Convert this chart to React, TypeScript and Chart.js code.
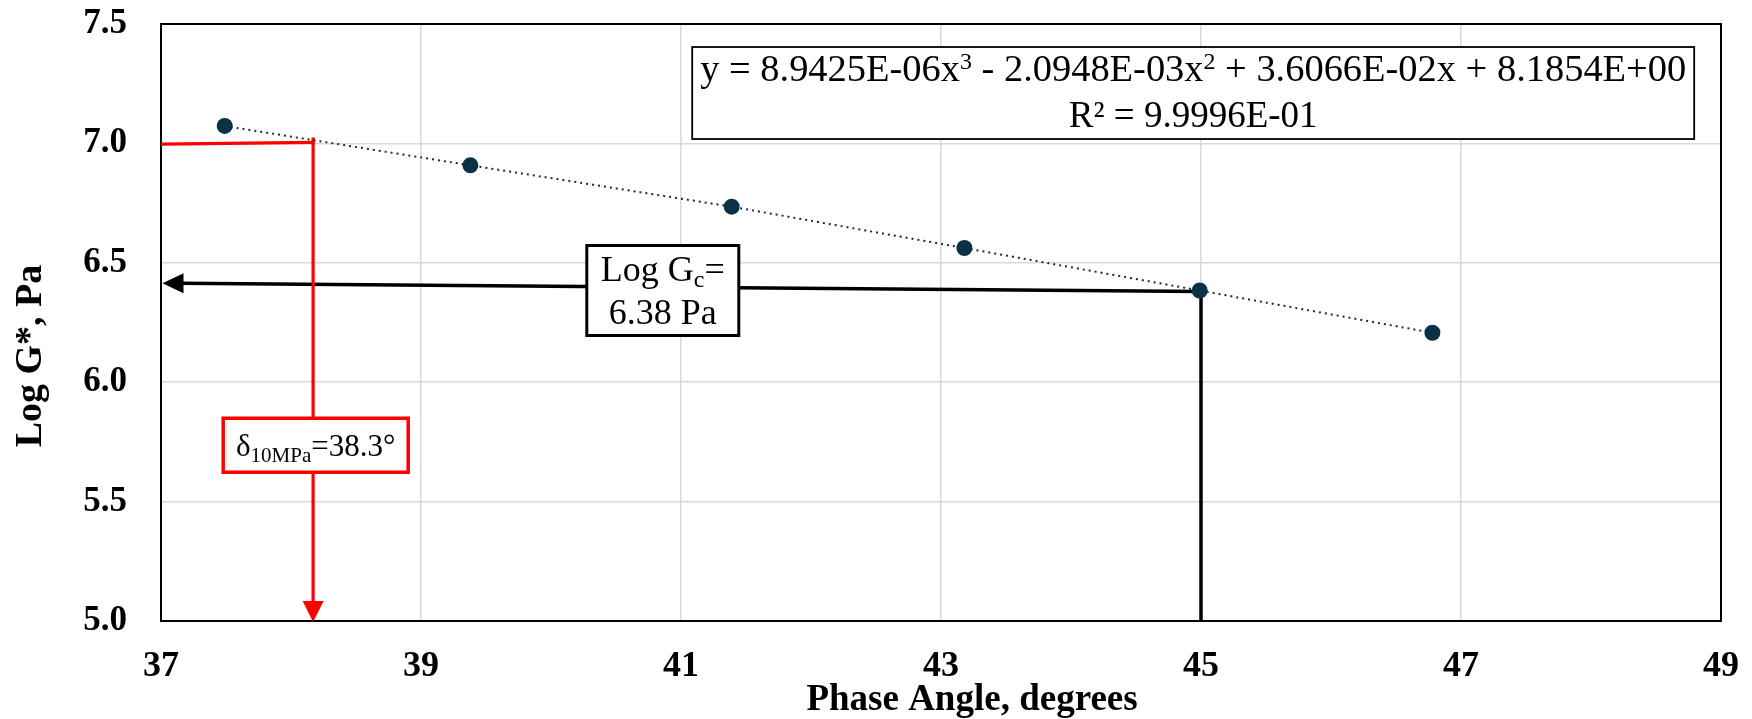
import { useEffect, useRef } from 'react';
import { Chart, registerables } from 'chart.js';

Chart.register(...registerables);

// ---- data ----
const phaseAngle = [37.49, 39.38, 41.39, 43.18, 44.99, 46.78];
const logGStar = [7.073, 6.908, 6.735, 6.562, 6.384, 6.207];

const xTickValues = [37, 39, 41, 43, 45, 47, 49];
const yTickValues = [5.0, 5.5, 6.0, 6.5, 7.0, 7.5];

// black guide: up from the x axis at 45°, then left to the y axis
const gcGuideX = [45, 45, 37];
const gcGuideY = [5.0, 6.38, 6.414];
// red guide: from the y axis at 7.0, then down to the x axis
const deltaGuideX = [37, 38.17, 38.17, 38.17];
const deltaGuideY = [6.997, 7.004, 7.025, 5.0];

// label anchors (data units)
const gcLabelAt = [40.86, 6.384];
const deltaLabelAt = [38.19, 5.736];
const equationAt = [44.94, 7.211];

const equationLine1 = ['y = 8.9425E-06x', '3', ' - 2.0948E-03x', '2', ' + 3.6066E-02x + 8.1854E+00'];
const equationLine2 = 'R² = 9.9996E-01';
const gcLabelLine1 = ['Log G', 'c', '='];
const gcLabelLine2 = '6.38 Pa';
const deltaLabel = ['δ', '10MPa', '=38.3°'];

const xTitle = 'Phase Angle, degrees';
const yTitle = 'Log G*, Pa';

const SERIF = "'Liberation Serif', 'Times New Roman', serif";
const POINT_COLOR = '#0b3146';

type Run = { t: string; s: number; dy: number };

function drawRuns(
  ctx: CanvasRenderingContext2D,
  runs: Run[],
  cx: number,
  baseline: number,
  color: string,
  fitWidth?: number
) {
  let total = 0;
  const widths = runs.map((r) => {
    ctx.font = `${r.s}px ${SERIF}`;
    const w = ctx.measureText(r.t).width;
    total += w;
    return w;
  });
  const sx = fitWidth ? fitWidth / total : 1;
  ctx.save();
  ctx.translate(cx, baseline);
  ctx.scale(sx, 1);
  let x = -total / 2;
  ctx.fillStyle = color;
  ctx.textAlign = 'left';
  ctx.textBaseline = 'alphabetic';
  runs.forEach((r, i) => {
    ctx.font = `${r.s}px ${SERIF}`;
    ctx.fillText(r.t, x, r.dy);
    x += widths[i];
  });
  ctx.restore();
}

function box(ctx: CanvasRenderingContext2D, cx: number, cy: number, w: number, h: number, stroke: string, lw: number) {
  ctx.fillStyle = '#ffffff';
  ctx.fillRect(cx - w / 2, cy - h / 2, w, h);
  ctx.strokeStyle = stroke;
  ctx.lineWidth = lw;
  ctx.strokeRect(cx - w / 2, cy - h / 2, w, h);
}

const overlayPlugin = {
  id: 'overlay',
  beforeDatasetsDraw(chart: any) {
    const { ctx, chartArea: a } = chart;
    const xs = chart.scales.x;
    const ys = chart.scales.y;
    const px = (v: number) => xs.getPixelForValue(v);
    const py = (v: number) => ys.getPixelForValue(v);
    ctx.save();

    // plot frame
    ctx.strokeStyle = '#000';
    ctx.lineWidth = 2;
    ctx.strokeRect(a.left, a.top, a.right - a.left, a.bottom - a.top);

    // black guide with arrow to the left
    const tipX = px(gcGuideX[2]) + 1.5;
    const tipY = py(gcGuideY[2]);
    ctx.strokeStyle = '#000';
    ctx.lineWidth = 3.5;
    ctx.lineJoin = 'miter';
    ctx.beginPath();
    ctx.moveTo(px(gcGuideX[0]), py(gcGuideY[0]));
    ctx.lineTo(px(gcGuideX[1]), py(gcGuideY[1]));
    ctx.lineTo(tipX + 18, tipY);
    ctx.stroke();
    ctx.fillStyle = '#000';
    ctx.beginPath();
    ctx.moveTo(tipX, tipY);
    ctx.lineTo(tipX + 21, tipY - 10);
    ctx.lineTo(tipX + 21, tipY + 10);
    ctx.closePath();
    ctx.fill();

    // red guide with arrow downwards
    ctx.strokeStyle = '#ff0000';
    ctx.lineWidth = 3.2;
    ctx.beginPath();
    ctx.moveTo(px(deltaGuideX[0]), py(deltaGuideY[0]));
    ctx.lineTo(px(deltaGuideX[1]) + 1.5, py(deltaGuideY[1]));
    ctx.stroke();
    const rTipX = px(deltaGuideX[3]);
    const rTipY = py(deltaGuideY[3]);
    ctx.beginPath();
    ctx.moveTo(px(deltaGuideX[2]), py(deltaGuideY[2]));
    ctx.lineTo(rTipX, rTipY - 18);
    ctx.stroke();
    ctx.fillStyle = '#ff0000';
    ctx.beginPath();
    ctx.moveTo(rTipX, rTipY + 1);
    ctx.lineTo(rTipX - 10.5, rTipY - 20);
    ctx.lineTo(rTipX + 10.5, rTipY - 20);
    ctx.closePath();
    ctx.fill();

    // Gc label
    const gx = px(gcLabelAt[0]);
    const gy = py(gcLabelAt[1]);
    box(ctx, gx, gy, 152, 90, '#000', 3);
    drawRuns(
      ctx,
      [
        { t: gcLabelLine1[0], s: 36, dy: 0 },
        { t: gcLabelLine1[1], s: 24, dy: 6 },
        { t: gcLabelLine1[2], s: 36, dy: 0 },
      ],
      gx,
      gy - 10,
      '#000'
    );
    drawRuns(ctx, [{ t: gcLabelLine2, s: 36, dy: 0 }], gx, gy + 33, '#000');

    // delta label
    const dx = px(deltaLabelAt[0]);
    const dy = py(deltaLabelAt[1]);
    box(ctx, dx, dy, 185, 54, '#ff0000', 3.5);
    drawRuns(
      ctx,
      [
        { t: deltaLabel[0], s: 31, dy: 0 },
        { t: deltaLabel[1], s: 21, dy: 6 },
        { t: deltaLabel[2], s: 31, dy: 0 },
      ],
      dx,
      dy + 11,
      '#000'
    );

    // trendline equation
    const ex = px(equationAt[0]);
    const ey = py(equationAt[1]);
    box(ctx, ex, ey, 1002, 92, '#000', 1.8);
    drawRuns(
      ctx,
      [
        { t: equationLine1[0], s: 37, dy: 0 },
        { t: equationLine1[1], s: 23, dy: -12 },
        { t: equationLine1[2], s: 37, dy: 0 },
        { t: equationLine1[3], s: 23, dy: -12 },
        { t: equationLine1[4], s: 37, dy: 0 },
      ],
      ex,
      ey - 12,
      '#000',
      986
    );
    drawRuns(ctx, [{ t: equationLine2, s: 37, dy: 0 }], ex, ey + 34, '#000');

    ctx.restore();
  },
  afterDraw(chart: any) {
    const { ctx } = chart;
    ctx.save();
    ctx.fillStyle = '#000';
    ctx.font = `bold 37px ${SERIF}`;
    ctx.textAlign = 'center';
    ctx.textBaseline = 'alphabetic';
    ctx.fillText(xTitle, 972, 710);
    ctx.translate(40.5, 356);
    ctx.rotate(-Math.PI / 2);
    ctx.font = `bold 38px ${SERIF}`;
    ctx.fillText(yTitle, 0, 0);
    ctx.restore();
  },
};

export default function App() {
  const canvasRef = useRef<HTMLCanvasElement | null>(null);

  useEffect(() => {
    document.body.style.margin = '0';
    const canvas = canvasRef.current;
    if (!canvas) return;
    const chart = new Chart(canvas, {
      type: 'scatter',
      data: {
        datasets: [
          {
            label: 'Log G*',
            data: phaseAngle.map((x, i) => ({ x, y: logGStar[i] })),
            showLine: true,
            borderColor: POINT_COLOR,
            borderWidth: 2,
            borderDash: [2, 4],
            pointRadius: 8,
            pointHoverRadius: 8,
            pointBackgroundColor: POINT_COLOR,
            pointBorderWidth: 0,
          },
        ],
      },
      options: {
        responsive: false,
        animation: false,
        devicePixelRatio: 1,
        layout: { padding: { left: 0, top: 24, right: 31, bottom: 0 } },
        plugins: {
          legend: { display: false },
          tooltip: { enabled: false },
        },
        scales: {
          x: {
            type: 'linear',
            min: 37,
            max: 49,
            afterBuildTicks: (scale: any) => {
              scale.ticks = xTickValues.map((v) => ({ value: v }));
            },
            afterFit: (scale: any) => {
              scale.height = 98;
              scale.paddingLeft = 0;
              scale.paddingRight = 0;
            },
            grid: { color: '#d9d9d9', lineWidth: 1.5, drawTicks: false },
            border: { display: false },
            ticks: {
              padding: 24,
              color: '#000',
              font: { family: SERIF, size: 36, weight: 'bold' },
              callback: (v: any) => String(v),
            },
          },
          y: {
            type: 'linear',
            min: 5,
            max: 7.5,
            afterBuildTicks: (scale: any) => {
              scale.ticks = yTickValues.map((v) => ({ value: v }));
            },
            afterFit: (scale: any) => {
              scale.width = 161;
              scale.paddingTop = 0;
              scale.paddingBottom = 0;
            },
            grid: { color: '#d9d9d9', lineWidth: 1.5, drawTicks: false },
            border: { display: false },
            ticks: {
              padding: 34,
              color: '#000',
              font: { family: SERIF, size: 35, weight: 'bold' },
              callback: (v: any) => Number(v).toFixed(1),
            },
          },
        },
      },
      plugins: [overlayPlugin],
    });
    return () => chart.destroy();
  }, []);

  return (
    <div style={{ position: 'absolute', left: 0, top: 0, width: 1752, height: 719, background: '#fff' }}>
      <canvas ref={canvasRef} width={1752} height={719} style={{ display: 'block', width: 1752, height: 719 }} />
    </div>
  );
}
